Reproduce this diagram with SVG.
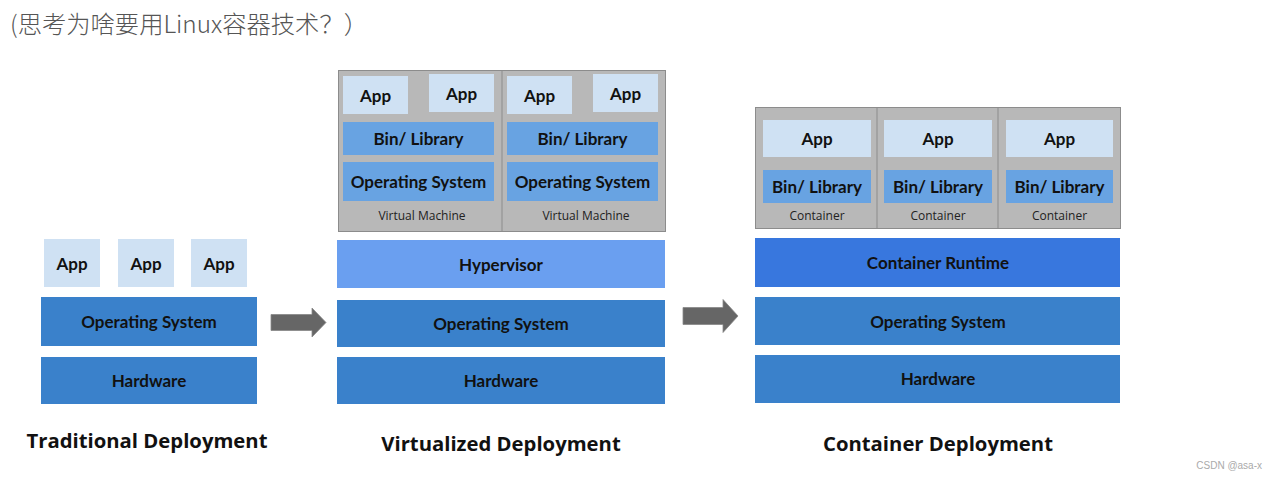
<svg xmlns="http://www.w3.org/2000/svg" width="1275" height="479" viewBox="0 0 1275 479">
<style>
.app{fill:#cfe1f3}
.os{fill:#3a81cb}
.bin{fill:#68a3e2}
.gray{fill:#b8b8b8;stroke:#8c8c8c;stroke-width:1}
.t{font-family:Lato,"Open Sans",sans-serif;font-weight:bold;font-size:17px;fill:#111;text-anchor:middle;dominant-baseline:central}
.s{font-family:"Open Sans",Lato,sans-serif;font-size:12px;fill:#222;text-anchor:middle;dominant-baseline:central}
.h{font-family:"Open Sans",Lato,sans-serif;font-weight:bold;font-size:20.3px;fill:#111;text-anchor:middle}
.arrow{fill:#666;stroke:#888;stroke-width:0.8}
</style>
<rect width="1275" height="479" fill="#fff"/>
<text x="10" y="33" font-family="'Noto Sans CJK SC',sans-serif" font-size="24.3" font-weight="300" fill="#555">(思考为啥要用Linux容器技术？）</text>

<g id="traditional">
  <g id="trad-app1"><rect class="app" x="44" y="239" width="56" height="48"/><text class="t" x="72" y="263">App</text></g>
  <g id="trad-app2"><rect class="app" x="118" y="239" width="56" height="48"/><text class="t" x="146" y="263">App</text></g>
  <g id="trad-app3"><rect class="app" x="191" y="239" width="56" height="48"/><text class="t" x="219" y="263">App</text></g>
  <g id="trad-os"><rect class="os" x="41" y="297" width="216" height="49"/><text class="t" x="149" y="321">Operating System</text></g>
  <g id="trad-hw"><rect class="os" x="41" y="357" width="216" height="47"/><text class="t" x="149" y="380">Hardware</text></g>
  <text class="h" x="147" y="448">Traditional Deployment</text>
</g>

<g id="virtualized">
  <g id="vm-box"><rect class="gray" x="338.5" y="70.5" width="327" height="161"/><line x1="502" y1="70.5" x2="502" y2="231.5" stroke="#8c8c8c"/></g>
  <g id="vm1">
    <g id="vm1-app1"><rect class="app" x="343" y="76" width="65" height="38"/><text class="t" x="375.5" y="95">App</text></g>
    <g id="vm1-app2"><rect class="app" x="429" y="74" width="65" height="38"/><text class="t" x="461.5" y="93">App</text></g>
    <g id="vm1-bin"><rect class="bin" x="343" y="122" width="151" height="33"/><text class="t" x="418.5" y="138">Bin/ Library</text></g>
    <g id="vm1-os"><rect class="bin" x="343" y="162" width="151" height="39"/><text class="t" x="418.5" y="181">Operating System</text></g>
    <text class="s" x="422" y="215">Virtual Machine</text>
  </g>
  <g id="vm2">
    <g id="vm2-app1"><rect class="app" x="507" y="76" width="65" height="38"/><text class="t" x="539.5" y="95">App</text></g>
    <g id="vm2-app2"><rect class="app" x="593" y="74" width="65" height="38"/><text class="t" x="625.5" y="93">App</text></g>
    <g id="vm2-bin"><rect class="bin" x="507" y="122" width="151" height="33"/><text class="t" x="582.5" y="138">Bin/ Library</text></g>
    <g id="vm2-os"><rect class="bin" x="507" y="162" width="151" height="39"/><text class="t" x="582.5" y="181">Operating System</text></g>
    <text class="s" x="586" y="215">Virtual Machine</text>
  </g>
  <g id="hypervisor"><rect x="337" y="240" width="328" height="48" fill="#6a9ff0"/><text class="t" x="501" y="264">Hypervisor</text></g>
  <g id="virt-os"><rect class="os" x="337" y="300" width="328" height="47"/><text class="t" x="501" y="323">Operating System</text></g>
  <g id="virt-hw"><rect class="os" x="337" y="357" width="328" height="47"/><text class="t" x="501" y="380">Hardware</text></g>
  <text class="h" x="501" y="451">Virtualized Deployment</text>
</g>

<g id="container">
  <g id="ct-box"><rect class="gray" x="755.5" y="107.5" width="365" height="121"/><line x1="877" y1="107.5" x2="877" y2="228.5" stroke="#8c8c8c"/><line x1="998" y1="107.5" x2="998" y2="228.5" stroke="#8c8c8c"/></g>
  <g id="ct1"><rect class="app" x="763" y="120" width="108" height="37"/><text class="t" x="817" y="138">App</text><rect class="bin" x="763" y="170" width="108" height="33"/><text class="t" x="817" y="186">Bin/ Library</text><text class="s" x="817" y="215">Container</text></g>
  <g id="ct2"><rect class="app" x="884" y="120" width="108" height="37"/><text class="t" x="938" y="138">App</text><rect class="bin" x="884" y="170" width="108" height="33"/><text class="t" x="938" y="186">Bin/ Library</text><text class="s" x="938" y="215">Container</text></g>
  <g id="ct3"><rect class="app" x="1006" y="120" width="107" height="37"/><text class="t" x="1059.5" y="138">App</text><rect class="bin" x="1006" y="170" width="107" height="33"/><text class="t" x="1059.5" y="186">Bin/ Library</text><text class="s" x="1059.5" y="215">Container</text></g>
  <g id="runtime"><rect x="755" y="238" width="365" height="49" fill="#3877de"/><text class="t" x="938" y="262">Container Runtime</text></g>
  <g id="ct-os"><rect class="os" x="755" y="297" width="365" height="48"/><text class="t" x="938" y="321">Operating System</text></g>
  <g id="ct-hw"><rect class="os" x="755" y="355" width="365" height="48"/><text class="t" x="938" y="378">Hardware</text></g>
  <text class="h" x="938" y="451">Container Deployment</text>
</g>

<g id="connectors">
  <polygon class="arrow" points="271,314.5 312,314.5 312,308 326,322.5 312,337 312,330.5 271,330.5"/>
  <polygon class="arrow" points="683,307.5 723,307.5 723,299.5 738,316 723,332.5 723,324.5 683,324.5"/>
</g>

<text x="1262" y="469" font-family="'Liberation Sans',sans-serif" font-size="10" fill="#aaa" text-anchor="end">CSDN @asa-x</text>
</svg>
